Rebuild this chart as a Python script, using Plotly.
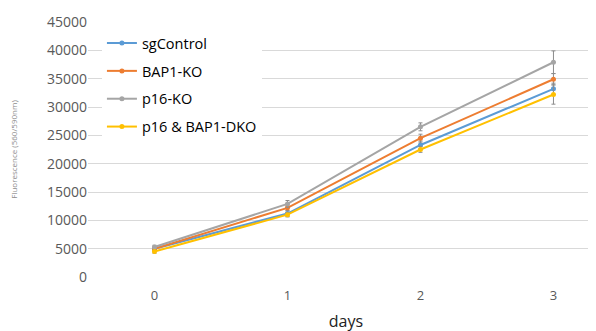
import plotly.graph_objects as go

days = [0, 1, 2, 3]
series_names = ["sgControl", "BAP1-KO", "p16-KO", "p16 & BAP1-DKO"]
sgcontrol = [5000, 11200, 23300, 33200]
bap1_ko = [5000, 12200, 24500, 34900]
p16_ko = [5300, 12900, 26500, 37900]
dko = [4500, 11000, 22500, 32200]
sgcontrol_err = [300, 500, 700, 1000]
bap1_ko_err = [300, 500, 700, 1000]
p16_ko_err = [300, 600, 700, 2000]
dko_err = [300, 400, 500, 1700]
y_ticks = [0, 5000, 10000, 15000, 20000, 25000, 30000, 35000, 40000, 45000]

colors = ["#5B9BD5", "#ED7D31", "#A5A5A5", "#FFC000"]
values = [sgcontrol, bap1_ko, p16_ko, dko]
errors = [sgcontrol_err, bap1_ko_err, p16_ko_err, dko_err]

fig = go.Figure()
for name, vals, errs, c in zip(series_names, values, errors, colors):
    fig.add_trace(go.Scatter(
        x=days, y=vals, name=name, mode="lines+markers",
        line=dict(color=c, width=2),
        marker=dict(color=c, size=5),
        error_y=dict(type="data", array=errs, color="#8C8C8C", thickness=1, width=2),
        legendgroup=name,
    ))

fig.update_layout(
    width=596, height=331,
    margin=dict(l=80, r=0, t=14, b=62),
    plot_bgcolor="white", paper_bgcolor="white",
    font=dict(family="Open Sans, Noto Sans, sans-serif", color="#595959"),
    showlegend=True,
    legend=dict(
        x=0.027, y=0.98, xanchor="left", yanchor="top",
        bgcolor="white", font=dict(size=14.5, color="#000000"),
        tracegroupgap=6, itemwidth=30,
    ),
    xaxis=dict(
        range=[-0.5, 3.38], tickvals=days, ticktext=[str(d) for d in days],
        showgrid=False, zeroline=False, showline=False, automargin=False,
        tickfont=dict(size=13, color="#595959"), ticks="", ticklabelstandoff=9,
        title=dict(text="days", font=dict(size=16, color="#222222"), standoff=12),
    ),
    yaxis=dict(
        range=[0, 45000], tickvals=y_ticks, ticktext=[str(t) for t in y_ticks],
        showgrid=True, gridcolor="#D9D9D9", gridwidth=1, zeroline=False, showline=False,
        automargin=False,
        tickfont=dict(size=14, color="#595959"), ticks="",
        title=dict(text="Fluorescence (560/590nm)", font=dict(size=8, color="#8C8C8C"), standoff=28),
    ),
)

fig.write_html("out.html")
